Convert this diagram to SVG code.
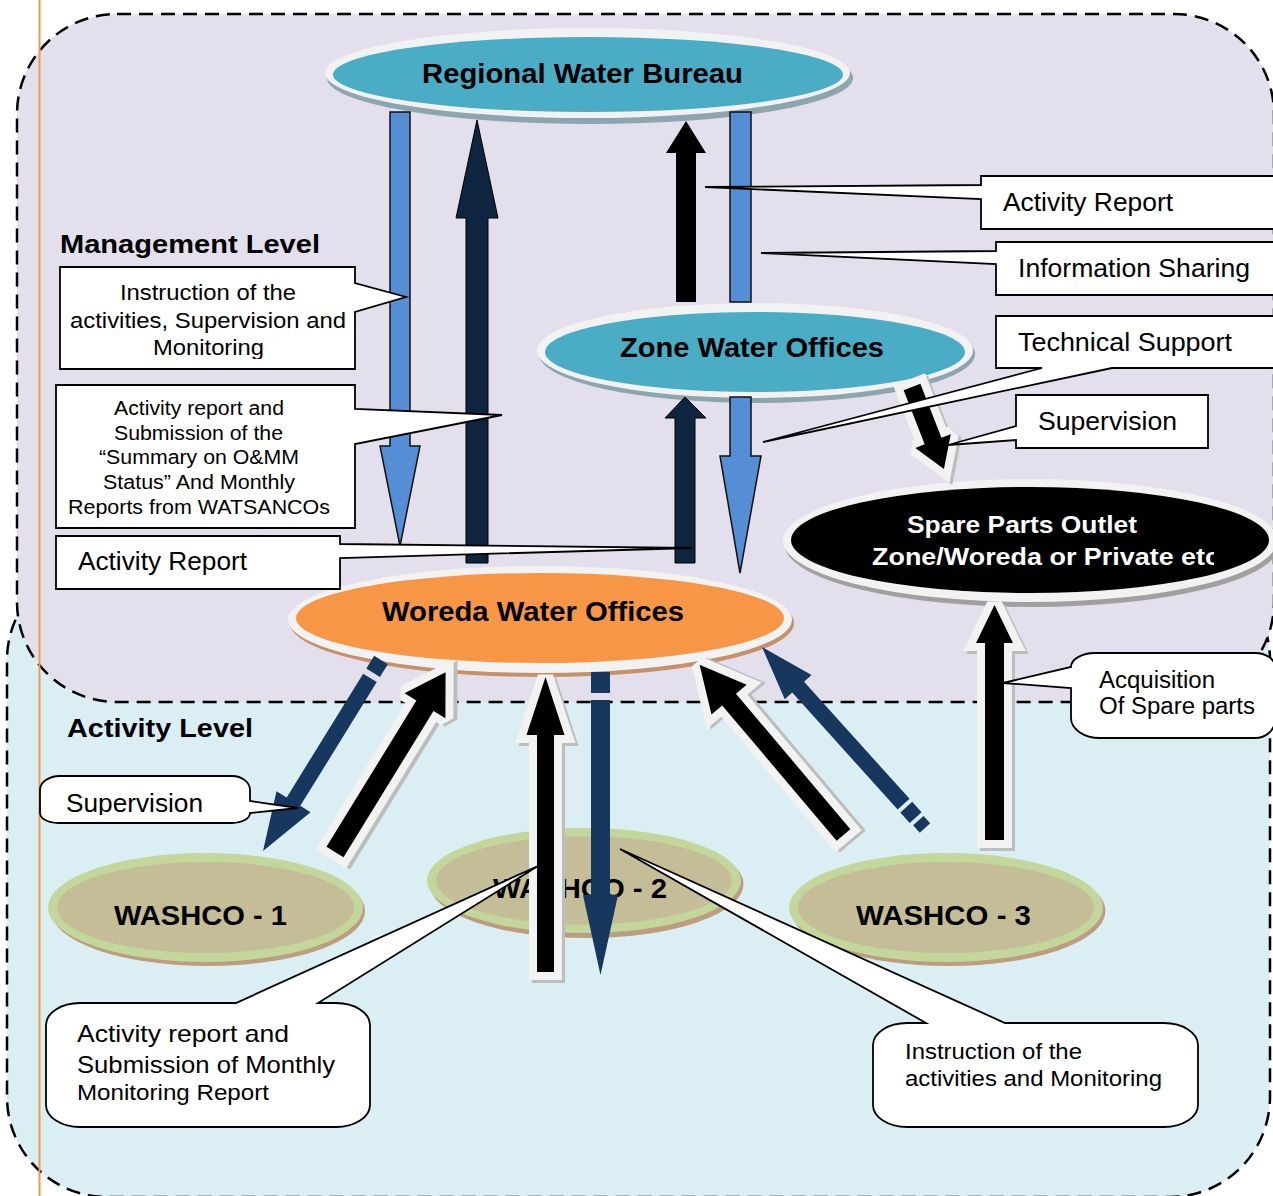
<svg xmlns="http://www.w3.org/2000/svg" width="1273" height="1196" viewBox="0 0 1273 1196">
<style>
text{font-family:"Liberation Sans",Arial,sans-serif;fill:#000}
.tb{font-weight:bold}
.rim{fill:#F2F2F2}
.co{fill:#fff;stroke:#000;stroke-width:1.8;stroke-linejoin:miter}
.wo{fill:#000;stroke:#F2F2F2;stroke-width:16;stroke-linejoin:miter;stroke-miterlimit:2;paint-order:stroke fill}
.wos{fill:#BDBDBD;stroke:#BDBDBD;stroke-width:16;stroke-linejoin:miter;stroke-miterlimit:2}
.nv{fill:#17375E}
.dk{fill:#0F243E;stroke:#000;stroke-width:1}
.bl{fill:#558ED5;stroke:#111;stroke-width:1.5}
.bk{fill:#000}
.bg{stroke:#000;stroke-width:2.5;stroke-dasharray:14 8}
</style>
<defs>
<clipPath id="clipSpare"><rect x="780" y="480" width="434" height="125"/></clipPath>
<clipPath id="clipSup"><rect x="40" y="770" width="220" height="45"/></clipPath>
<clipPath id="clipMon"><rect x="60" y="267" width="295" height="92"/></clipPath>
</defs>

<g id="backgrounds">
<rect class="bg" x="7" y="560" width="1263" height="637" rx="100" fill="#DBEEF4"/>
<rect class="bg" x="17" y="14" width="1257" height="688" rx="100" fill="#E4DFEC"/>
<line x1="39.5" y1="0" x2="39.5" y2="1196" stroke="#F79646" stroke-width="2"/>
<text class="tb" x="60" y="253" font-size="25" textLength="260" lengthAdjust="spacingAndGlyphs">Management Level</text>
<text class="tb" x="67" y="737" font-size="26" textLength="186" lengthAdjust="spacingAndGlyphs">Activity Level</text>
</g>

<g id="node-regional">
<ellipse cx="590" cy="78" rx="263" ry="46" fill="#8CA5AF"/>
<ellipse class="rim" cx="587.5" cy="73" rx="262.5" ry="45"/>
<ellipse cx="588" cy="74.5" rx="255" ry="37.5" fill="#4BACC6"/>
<text class="tb" x="422" y="83" font-size="27" textLength="321" lengthAdjust="spacingAndGlyphs">Regional Water Bureau</text>
</g>

<g id="node-zone">
<ellipse cx="757" cy="354" rx="218" ry="49" fill="#8CA5AF"/>
<ellipse class="rim" cx="755" cy="350.5" rx="218" ry="47.5"/>
<ellipse cx="755" cy="352" rx="210" ry="40" fill="#4BACC6"/>
<text class="tb" x="620" y="357" font-size="27" textLength="264" lengthAdjust="spacingAndGlyphs">Zone Water Offices</text>
</g>

<g id="node-woreda">
<ellipse cx="542" cy="623" rx="252" ry="54" fill="#C4916A"/>
<ellipse class="rim" cx="540" cy="619.5" rx="252" ry="53.5"/>
<ellipse cx="540" cy="618" rx="244" ry="45" fill="#F79646"/>
<text class="tb" x="382" y="621" font-size="27" textLength="302" lengthAdjust="spacingAndGlyphs">Woreda Water Offices</text>
</g>

<g id="node-spare">
<ellipse cx="1032" cy="545" rx="247" ry="62" fill="#A0A0A0"/>
<ellipse class="rim" cx="1030" cy="540.5" rx="247" ry="61.5"/>
<ellipse cx="1030" cy="540" rx="239" ry="53" fill="#000"/>
<g clip-path="url(#clipSpare)">
<text class="tb" x="907" y="533" font-size="24" textLength="230" lengthAdjust="spacingAndGlyphs" style="fill:#fff">Spare Parts Outlet</text>
<text class="tb" x="872" y="565" font-size="24" textLength="348" lengthAdjust="spacingAndGlyphs" style="fill:#fff">Zone/Woreda or Private etc</text>
</g>
</g>

<g id="node-washco1">
<ellipse cx="208" cy="911" rx="157" ry="55" fill="#BD9D7E"/>
<ellipse cx="205.5" cy="907.5" rx="157.5" ry="54.5" fill="#C3D69B"/>
<ellipse cx="205.5" cy="907.5" rx="148.5" ry="45.5" fill="#C4BD97"/>
<text class="tb" x="114" y="925" font-size="28" textLength="173" lengthAdjust="spacingAndGlyphs">WASHCO - 1</text>
</g>

<g id="node-washco2">
<ellipse cx="586.5" cy="884" rx="157" ry="54" fill="#BD9D7E"/>
<ellipse cx="584" cy="880.5" rx="157" ry="52.5" fill="#C3D69B"/>
<ellipse cx="584" cy="880.5" rx="148" ry="44" fill="#C4BD97"/>
<text class="tb" x="493" y="898" font-size="28" textLength="174" lengthAdjust="spacingAndGlyphs">WASHCO - 2</text>
</g>

<g id="node-washco3">
<ellipse cx="948.5" cy="911" rx="157" ry="55" fill="#BD9D7E"/>
<ellipse cx="946" cy="907.5" rx="157" ry="54.5" fill="#C3D69B"/>
<ellipse cx="946" cy="907.5" rx="148" ry="45.5" fill="#C4BD97"/>
<text class="tb" x="856" y="925" font-size="28" textLength="175" lengthAdjust="spacingAndGlyphs">WASHCO - 3</text>
</g>

<g id="connectors">
<!-- Regional -> Woreda (blue down) -->
<polygon class="bl" points="390,112 410,112 410,446 420,446 400,546 380,446 390,446"/>
<!-- Woreda -> Regional (dark up) -->
<polygon class="dk" points="466,563 488,563 488,218 498,218 477,120 456,218 466,218"/>
<!-- Zone -> Regional (black up) -->
<polygon class="bk" points="676,302 696,302 696,153 706,153 686,121 666,153 676,153"/>
<!-- Regional -> Zone (blue bar) -->
<rect class="bl" x="730" y="112" width="21" height="190"/>
<!-- Woreda -> Zone (dark up) -->
<polygon class="dk" points="675,563 695,563 695,418 706,418 685,397 665,418 675,418"/>
<!-- Zone -> Woreda (blue down) -->
<polygon class="bl" points="730,397 751,397 751,456 761,456 740,573 720,456 730,456"/>

<!-- Zone -> Spare parts -->
<g transform="translate(912,387) rotate(68.7)">
<polygon class="wos" transform="translate(3,-2)" points="0,-9 58,-9 58,-19 88,0 58,19 58,9 0,9"/>
<polygon class="wo" points="0,-9 58,-9 58,-19 88,0 58,19 58,9 0,9"/>
</g>
<!-- WASHCO-3 -> Spare parts -->
<polygon class="wos" transform="translate(3,3)" points="985,840 1004,840 1004,643 1013,643 994.5,605 976,643 985,643"/>
<polygon class="wo" points="985,840 1004,840 1004,643 1013,643 994.5,605 976,643 985,643"/>

<!-- Woreda -> WASHCO-1 (navy) -->
<g transform="translate(381,660) rotate(121.7)">
<polygon class="nv" points="0,-8 15,-8 15,8 0,8"/>
<polygon class="nv" points="21,-8 166.5,-8 166.5,-20 224.5,0 166.5,20 166.5,8 21,8"/>
</g>
<!-- WASHCO-1 -> Woreda (black) -->
<g transform="translate(335,852) rotate(-58.4)">
<polygon class="wos" transform="translate(1,4)" points="0,-10 171.7,-10 171.7,-24 211,0 171.7,24 171.7,10 0,10"/>
<polygon class="wo" points="0,-10 171.7,-10 171.7,-24 211,0 171.7,24 171.7,10 0,10"/>
</g>
<!-- WASHCO-2 -> Woreda (black) -->
<polygon class="wos" transform="translate(3,3)" points="537,972 554,972 554,735 564.5,735 545.5,677 526.5,735 537,735"/>
<polygon class="wo" points="537,972 554,972 554,735 564.5,735 545.5,677 526.5,735 537,735"/>
<!-- Woreda -> WASHCO-2 (navy) -->
<rect class="nv" x="591" y="672" width="19" height="21"/>
<polygon class="nv" points="591,700 610,700 610,895 618,895 600.5,975 583,895 591,895"/>
<!-- WASHCO-3 -> Woreda (black) -->
<g transform="translate(843.5,835) rotate(-130.2)">
<polygon class="wos" transform="translate(-3,3)" points="0,-9 177.3,-9 177.3,-23 223,0 177.3,23 177.3,9 0,9"/>
<polygon class="wo" points="0,-9 177.3,-9 177.3,-23 223,0 177.3,23 177.3,9 0,9"/>
</g>
<!-- WASHCO-3 -> Woreda (navy) -->
<g transform="translate(925,828) rotate(-132)">
<polygon class="nv" points="0,-7 10,-7 10,7 0,7"/>
<polygon class="nv" points="14,-8 28,-8 28,8 14,8"/>
<polygon class="nv" points="32,-8 189.6,-8 189.6,-18 243.6,0 189.6,18 189.6,8 32,8"/>
</g>
</g>

<g id="callouts">
<g id="callout-instruction-mgmt">
<path class="co" d="M60,267 H355 V283 L406,297 L355,312 V369 H60 Z"/>
<g clip-path="url(#clipMon)">
<text x="120" y="300" font-size="22" textLength="176" lengthAdjust="spacingAndGlyphs">Instruction of the</text>
<text x="70" y="328" font-size="22" textLength="276" lengthAdjust="spacingAndGlyphs">activities, Supervision and</text>
<text x="153" y="355" font-size="22" textLength="111" lengthAdjust="spacingAndGlyphs">Monitoring</text>
</g>
</g>
<g id="callout-summary">
<path class="co" d="M56,385 H355 V409 L502,415 L355,444 V528 H56 Z"/>
<text x="114" y="415" font-size="20" textLength="170" lengthAdjust="spacingAndGlyphs">Activity report and</text>
<text x="114" y="440" font-size="20" textLength="169" lengthAdjust="spacingAndGlyphs">Submission of the</text>
<text x="99" y="464" font-size="20" textLength="200" lengthAdjust="spacingAndGlyphs">“Summary on O&amp;MM</text>
<text x="103" y="489" font-size="20" textLength="192" lengthAdjust="spacingAndGlyphs">Status” And Monthly</text>
<text x="68" y="514" font-size="20" textLength="262" lengthAdjust="spacingAndGlyphs">Reports from WATSANCOs</text>
</g>
<g id="callout-activity-report-left">
<path class="co" d="M56,536 H340 V544 L692,548 L340,558 V589 H56 Z"/>
<text x="78" y="570" font-size="25" textLength="169" lengthAdjust="spacingAndGlyphs">Activity Report</text>
</g>
<g id="callout-activity-report-right">
<path class="co" d="M1285,176 H981 V185 L705,187 L981,199 V229 H1285 Z"/>
<text x="1003" y="211" font-size="25" textLength="170" lengthAdjust="spacingAndGlyphs">Activity Report</text>
</g>
<g id="callout-information-sharing">
<path class="co" d="M1285,242 H996 V251 L761,253 L996,264 V295 H1285 Z"/>
<text x="1018" y="277" font-size="25" textLength="232" lengthAdjust="spacingAndGlyphs">Information Sharing</text>
</g>
<g id="callout-technical-support">
<path class="co" d="M996,316 H1285 V368 H1112 L763,442 L1042,368 H996 Z"/>
<text x="1018" y="351" font-size="25" textLength="214" lengthAdjust="spacingAndGlyphs">Technical Support</text>
</g>
<g id="callout-supervision-right">
<path class="co" d="M1016,395 H1208 V448 H1016 V440 L948,445 L1016,426 Z"/>
<text x="1038" y="430" font-size="25" textLength="139" lengthAdjust="spacingAndGlyphs">Supervision</text>
</g>
<g id="callout-supervision-left">
<path class="co" d="M60,776 H232 A18 14 0 0 1 250,790 V801 L298,808 L250,813 A18 10 0 0 1 232,823 H58 A18 10 0 0 1 40,813 V790 A20 14 0 0 1 60,776 Z"/>
<g clip-path="url(#clipSup)">
<text x="66" y="812" font-size="25" textLength="137" lengthAdjust="spacingAndGlyphs">Supervision</text>
</g>
</g>
<g id="callout-acquisition">
<path class="co" d="M1095,653 H1255 A20 14 0 0 1 1275,667 V720 A20 18 0 0 1 1255,738 H1100 A29 20 0 0 1 1071,718 V688 L1003,683 L1071,667 A24 14 0 0 1 1095,653 Z"/>
<text x="1099" y="688" font-size="23" textLength="116" lengthAdjust="spacingAndGlyphs">Acquisition</text>
<text x="1099" y="714" font-size="23" textLength="156" lengthAdjust="spacingAndGlyphs">Of Spare parts</text>
</g>
<g id="callout-monthly-report">
<path class="co" d="M80,1003 H236 L538,866 L318,1003 H336 A34 22 0 0 1 370,1025 V1105 A34 22 0 0 1 336,1127 H80 A34 22 0 0 1 46,1105 V1025 A34 22 0 0 1 80,1003 Z"/>
<text x="77" y="1042" font-size="24" textLength="212" lengthAdjust="spacingAndGlyphs">Activity report and</text>
<text x="77" y="1073" font-size="24" textLength="258" lengthAdjust="spacingAndGlyphs">Submission of Monthly</text>
<text x="77" y="1100" font-size="22" textLength="192" lengthAdjust="spacingAndGlyphs">Monitoring Report</text>
</g>
<g id="callout-instruction-activity">
<path class="co" d="M907,1023 H926 L620,849 L1005,1023 H1164 A34 22 0 0 1 1198,1045 V1105 A34 22 0 0 1 1164,1127 H907 A34 22 0 0 1 873,1105 V1045 A34 22 0 0 1 907,1023 Z"/>
<text x="905" y="1059" font-size="22" textLength="177" lengthAdjust="spacingAndGlyphs">Instruction of the</text>
<text x="905" y="1086" font-size="22" textLength="257" lengthAdjust="spacingAndGlyphs">activities and Monitoring</text>
</g>
</g>
</svg>
